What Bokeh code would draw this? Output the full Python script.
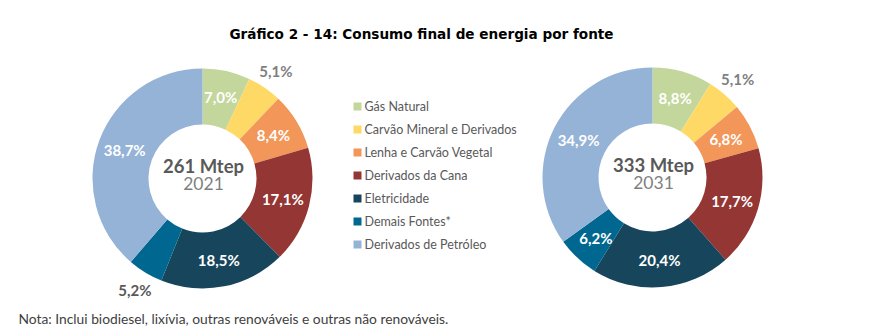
import numpy as np
from bokeh.plotting import figure
from bokeh.models import Range1d, ColumnDataSource
from bokeh.core.properties import value
from bokeh.embed import file_html
from bokeh.resources import INLINE

# ---- data ----
categories = ["Gás Natural", "Carvão Mineral e Derivados", "Lenha e Carvão Vegetal",
              "Derivados da Cana", "Eletricidade", "Demais Fontes*", "Derivados de Petróleo"]
colors = ["#C3D69B", "#FFD966", "#F2965A", "#943634", "#17465C", "#006890", "#95B3D7"]
share_2021 = [7.0, 5.1, 8.4, 17.1, 18.5, 5.2, 38.7]
share_2031 = [8.8, 5.1, 6.8, 17.7, 20.4, 6.2, 34.9]
total_2021 = "261 Mtep"
total_2031 = "333 Mtep"
year_2021 = "2021"
year_2031 = "2031"
title = "Gráfico 2 - 14: Consumo final de energia por fonte"
note = "Nota: Inclui biodiesel, lixívia, outras renováveis e outras não renováveis."

W, H = 878, 328
FONT = "Lato"

p = figure(width=W, height=H, x_range=Range1d(0, W), y_range=Range1d(0, H),
           output_backend="svg", toolbar_location=None, min_border=0)
p.axis.visible = False
p.grid.visible = False
p.outline_line_color = None
p.background_fill_color = "white"


def Y(y):
    return H - y


def donut(cx, cy, shares, total, year):
    s = np.array(shares, dtype=float)
    frac = s / s.sum()
    cum = np.concatenate([[0], np.cumsum(frac)])
    start = np.pi / 2 - cum[:-1] * 2 * np.pi
    end = np.pi / 2 - cum[1:] * 2 * np.pi
    src = ColumnDataSource(dict(x=[cx] * len(s), y=[Y(cy)] * len(s), start=start, end=end, color=colors))
    p.annular_wedge(x="x", y="y", inner_radius=54, outer_radius=110, start_angle="start",
                    end_angle="end", direction="clock", fill_color="color", line_color=None,
                    source=src)
    mid = (start + end) / 2
    labels = [f"{v:.1f}".replace(".", ",") + "%" for v in s]
    inside = s >= 6
    r = np.where(inside, 83, 130)
    lx = cx + r * np.cos(mid)
    ly = Y(cy) + r * np.sin(mid)
    col = np.where(inside, "#FFFFFF", "#7F7F7F")
    col = [c if not (not ins and np.sin(m) < 0) else "#595959" for c, ins, m in zip(col, inside, mid)]
    lsrc = ColumnDataSource(dict(x=lx, y=ly, t=labels, c=col))
    p.text(x="x", y="y", text="t", text_color="c", text_font=value(FONT), text_font_style="bold",
           text_font_size="15px", text_align="center", text_baseline="middle", source=lsrc)
    p.text(x=[cx + 1], y=[Y(cy - 13)], text=[total], text_color="#595959", text_font=value(FONT),
           text_font_style="bold", text_font_size="18.5px", text_align="center", text_baseline="middle")
    p.text(x=[cx + 1], y=[Y(cy + 5)], text=[year], text_color="#7F7F7F", text_font=value(FONT),
           text_font_size="17.5px", text_align="center", text_baseline="middle")


donut(202, 178, share_2021, total_2021, year_2021)
donut(652, 177, share_2031, total_2031, year_2031)

# legend
ly = [Y(106 + 23 * i) for i in range(len(categories))]
p.rect(x=[357] * len(categories), y=ly, width=8, height=8, fill_color=colors, line_color=None)
p.text(x=[364] * len(categories), y=ly, text=categories, text_color="#595959",
       text_font=value(FONT), text_font_size="12.5px", text_align="left", text_baseline="middle")

# title
p.text(x=[421], y=[Y(33)], text=[title], text_color="#000000", text_font=value("DejaVu Sans"),
       text_font_style="bold", text_font_size="13.6px", text_align="center", text_baseline="middle")

# note
p.text(x=[18], y=[Y(318)], text=[note], text_color="#404040", text_font=value(FONT),
       text_font_size="13.8px", text_align="left", text_baseline="middle")

open("out.html", "w").write(file_html(p, INLINE))
